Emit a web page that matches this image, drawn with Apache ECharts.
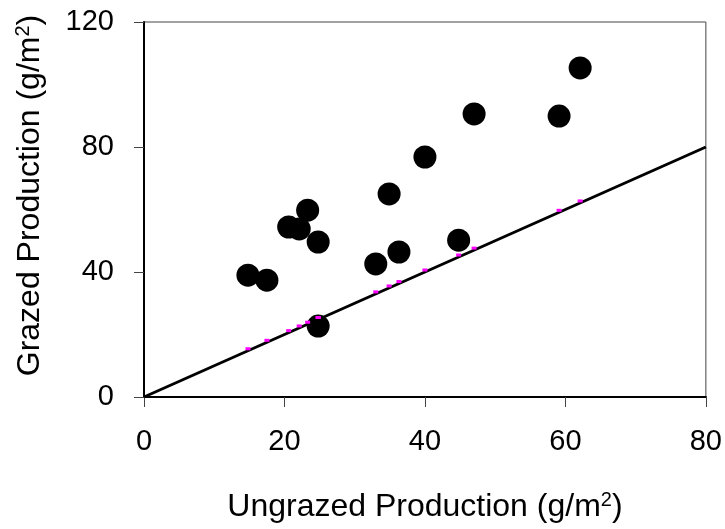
<!DOCTYPE html>
<html>
<head>
<meta charset="utf-8">
<script src="https://cdn.jsdelivr.net/npm/echarts@6/dist/echarts.min.js"></script>
<style>
  html, body { margin: 0; padding: 0; background: #fff; }
  #main { width: 725px; height: 529px; }
</style>
</head>
<body>
<div id="main"></div>
<script>
// ungrazed vs grazed production, g/m2
var ungrazed = [14.8, 17.5, 20.6, 22.1, 23.3, 24.8, 24.8, 33.0, 34.9, 36.3, 40.0, 44.8, 47.0, 59.1, 62.1];
var grazed   = [39.0, 37.4, 54.4, 53.8, 59.8, 49.6, 22.7, 42.6, 65.0, 46.4, 76.8, 50.2, 90.6, 89.9, 105.3];
// 1:1 line end points
var lineX = [0, 80];
var lineY = [0, 80];
var xTicks = [0, 20, 40, 60, 80];
var yTicks = [0, 40, 80, 120];

var font = '"Liberation Sans", Arial, sans-serif';

var pts = ungrazed.map(function (x, i) { return [x, grazed[i]]; });
// small marks where each point sits on the 1:1 line
var onLine = ungrazed.map(function (x) { return [x, x]; });
var linePts = lineX.map(function (x, i) { return [x, lineY[i]]; });

var chart = echarts.init(document.getElementById('main'));

var axisBase = {
    type: 'value',
    nameLocation: 'middle',
    splitLine: { show: false },
    axisLine: { show: true, lineStyle: { color: '#000', width: 2 } },
    axisTick: { show: true, inside: false, length: 10, lineStyle: { color: '#444', width: 1 } },
    axisLabel: { color: '#000', fontSize: 29, fontFamily: font, margin: 30 }
};

var richName = {
    a: { fontSize: 32, fontFamily: font, color: '#000' },
    s: { fontSize: 20, fontFamily: font, color: '#000', verticalAlign: 'top', padding: [0, 0, 14, 0] }
};

chart.setOption({
    animation: false,
    grid: {
        left: 144, right: 19, top: 22, bottom: 132,
        show: true, borderColor: '#444', borderWidth: 1
    },
    xAxis: Object.assign({}, axisBase, {
        min: xTicks[0], max: xTicks[xTicks.length - 1], interval: 20,
        name: '{a|Ungrazed Production (g/m}{s|2}{a|)}',
        nameGap: 93,
        nameTextStyle: { rich: richName }
    }),
    yAxis: Object.assign({}, axisBase, {
        min: yTicks[0], max: yTicks[yTicks.length - 1], interval: 40,
        name: '{a|Grazed Production (g/m}{s|2}{a|)}',
        nameGap: 97,
        nameTextStyle: { rich: richName, padding: [0, 0, 0, 28] }
    }),
    series: [
        {
            type: 'line',
            data: linePts,
            symbol: 'none',
            lineStyle: { color: '#000', width: 3 },
            z: 2
        },
        {
            type: 'scatter',
            data: pts,
            symbol: 'circle',
            symbolSize: 23,
            itemStyle: { color: '#000', opacity: 1 },
            z: 3
        },
        {
            type: 'scatter',
            data: onLine,
            symbol: 'rect',
            symbolSize: [5, 3],
            symbolOffset: [0, -2],
            itemStyle: { color: '#ff00ff', opacity: 1 },
            z: 4
        }
    ]
});
</script>
</body>
</html>
